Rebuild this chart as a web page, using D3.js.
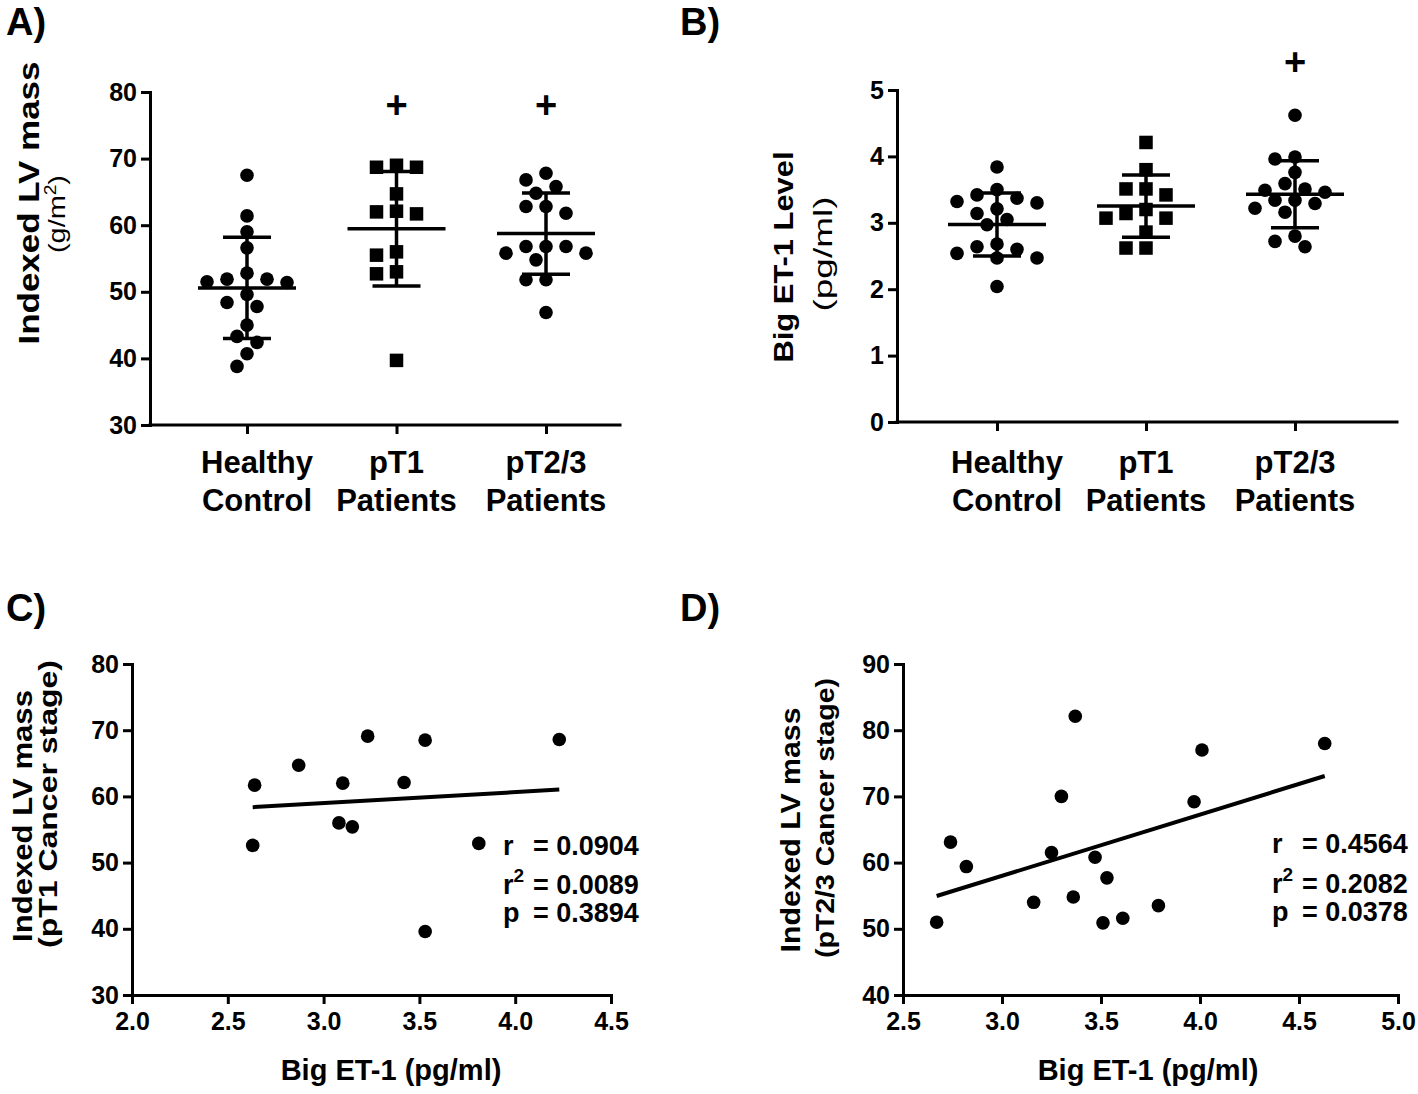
<!DOCTYPE html>
<html>
<head>
<meta charset="utf-8">
<script src="https://cdn.jsdelivr.net/npm/d3@7"></script>
<style>
  body { margin: 0; background: #fff; }
  svg { display: block; }
  text { font-family: "Liberation Sans", Arial, sans-serif; font-weight: bold; fill: #000; }
</style>
</head>
<body>
<svg id="chart" width="1418" height="1094"></svg>
<script>
// ---------------- data ----------------
const groups = ["Healthy Control", "pT1 Patients", "pT2/3 Patients"];
const groupLabelLines = [["Healthy", "Control"], ["pT1", "Patients"], ["pT2/3", "Patients"]];
const groupShapes = ["circle", "square", "circle"];

// Panel A: Indexed LV mass (g/m2)
const lvHealthy = [67.5, 61.4, 59.0, 56.6, 51.5, 51.9, 51.4, 51.9, 52.8, 49.6, 47.8, 48.4, 45.0, 43.3, 42.4, 40.7, 38.8];
const lvPT1 = [69.0, 68.7, 68.7, 64.7, 62.0, 61.7, 62.1, 56.0, 55.5, 53.0, 52.7, 39.7];
const lvPT23 = [67.8, 66.8, 64.8, 65.8, 62.8, 61.8, 62.8, 56.8, 56.8, 56.8, 55.8, 55.8, 54.8, 51.8, 51.8, 46.9];
const lvSignificant = [false, true, true];
const lvTicks = [30, 40, 50, 60, 70, 80];

// Panel B: Big ET-1 level (pg/ml)
const et1Healthy = [3.84, 3.42, 3.32, 3.30, 3.37, 3.50, 3.14, 3.21, 2.97, 3.05, 2.68, 2.60, 2.47, 2.47, 2.54, 2.64, 2.04];
const et1PT1 = [4.21, 3.80, 3.51, 3.51, 3.42, 3.20, 3.07, 3.07, 3.14, 2.86, 2.62, 2.62];
const et1PT23 = [4.62, 3.96, 3.99, 3.76, 3.51, 3.46, 3.49, 3.59, 3.34, 3.34, 3.22, 3.29, 3.16, 2.80, 2.64, 2.72];
const et1Significant = [false, false, true];
const et1Ticks = [0, 1, 2, 3, 4, 5];

// Panel C: pT1 patients, Big ET-1 vs Indexed LV mass
const cEt1 = [2.64, 2.63, 2.87, 3.10, 3.08, 3.15, 3.23, 3.42, 3.53, 3.53, 3.81, 4.23];
const cLv  = [61.7, 52.6, 64.7, 62.0, 56.0, 55.4, 69.1, 62.1, 68.5, 39.6, 52.9, 68.6];
const cXTicks = [2.0, 2.5, 3.0, 3.5, 4.0, 4.5];
const cYTicks = [30, 40, 50, 60, 70, 80];
const cStatLabels = ["r", "r2", "p"];
const cStatValues = ["0.0904", "0.0089", "0.3894"];

// Panel D: pT2/3 patients, Big ET-1 vs Indexed LV mass
const dEt1 = [2.67, 2.74, 2.82, 3.16, 3.25, 3.30, 3.36, 3.37, 3.47, 3.51, 3.53, 3.61, 3.79, 3.97, 4.01, 4.63];
const dLv  = [51.0, 63.1, 59.4, 54.0, 61.5, 70.0, 54.8, 82.1, 60.8, 50.9, 57.7, 51.6, 53.5, 69.2, 77.0, 78.0];
const dXTicks = [2.5, 3.0, 3.5, 4.0, 4.5, 5.0];
const dYTicks = [40, 50, 60, 70, 80, 90];
const dStatLabels = ["r", "r2", "p"];
const dStatValues = ["0.4564", "0.2082", "0.0378"];

// ---------------- drawing ----------------
const svg = d3.select("#chart");
const AXW = 3;
const DOT_R = 6.8;
const FONT = '"Liberation Sans", Arial, sans-serif';

function styleAxis(g) {
  g.selectAll(".domain").attr("stroke", "#000").attr("stroke-width", AXW).attr("stroke-linecap", "square");
  g.selectAll(".tick line").attr("stroke", "#000").attr("stroke-width", AXW);
  g.selectAll(".tick text").attr("fill", "#000").style("font-size", "25px").style("font-weight", "bold")
    .style("font-family", FONT);
}

function vTitle(x, yc, text, size, weight, len) {
  const t = svg.append("text")
    .attr("transform", `translate(${x},${yc}) rotate(-90)`)
    .attr("text-anchor", "middle")
    .style("font-size", size + "px")
    .style("font-weight", weight)
    .text(text);
  if (len) t.attr("textLength", len).attr("lengthAdjust", "spacingAndGlyphs");
  return t;
}

function panelLetter(x, y, t) {
  svg.append("text").attr("x", x).attr("y", y).style("font-size", "38px").text(t);
}

// beeswarm placement, in pixels
function swarm(values, y, step, minDist) {
  const pts = values.map((v, i) => ({ v, i, py: y(v) })).sort((a, b) => a.py - b.py);
  const placed = [];
  for (const p of pts) {
    let dx = 0;
    for (let k = 0; k < 50; k++) {
      const cands = k === 0 ? [0] : [-k * step, k * step];
      const ok = cands.find(c => placed.every(q => Math.hypot(q.dx - c, q.py - p.py) >= minDist));
      if (ok !== undefined) { dx = ok; break; }
    }
    p.dx = dx;
    placed.push(p);
  }
  return pts;
}

function dotPlot(cfg) {
  const { x0, x1, yTop, yBot, domain, ticks, catRange, data, sig, yFmt, labelY } = cfg;
  const y = d3.scaleLinear().domain(domain).range([yBot, yTop]);
  const x = d3.scalePoint().domain(groups).range(catRange);

  const ga = svg.append("g").attr("transform", `translate(${x0},0)`)
    .call(d3.axisLeft(y).tickValues(ticks).tickFormat(yFmt).tickSize(9).tickPadding(4).tickSizeOuter(0));
  styleAxis(ga);

  // x axis baseline + category ticks
  svg.append("line").attr("x1", x0).attr("x2", x1).attr("y1", yBot).attr("y2", yBot)
    .attr("stroke", "#000").attr("stroke-width", AXW).attr("stroke-linecap", "square");
  const gx = svg.append("g").attr("transform", `translate(0,${yBot})`)
    .call(d3.axisBottom(x).tickSize(9).tickFormat(""));
  gx.select(".domain").remove();
  styleAxis(gx);

  groups.forEach((gname, gi) => {
    const cx = x(gname);
    const lx = cx + (gi === 0 ? 10 : 0);   // first label sits slightly right of its tick
    const t = svg.append("text").attr("text-anchor", "middle").style("font-size", "31px");
    t.append("tspan").attr("x", lx).attr("y", labelY[0]).text(groupLabelLines[gi][0]);
    t.append("tspan").attr("x", lx).attr("y", labelY[1]).text(groupLabelLines[gi][1]);

    const vals = data[gi];
    const pts = swarm(vals, y, 10, 13.5);
    const g = svg.append("g");
    if (groupShapes[gi] === "circle") {
      g.selectAll("circle").data(pts).join("circle")
        .attr("cx", d => cx + d.dx).attr("cy", d => d.py).attr("r", DOT_R).attr("fill", "#000");
    } else {
      const s = 13.5;
      g.selectAll("rect").data(pts).join("rect")
        .attr("x", d => cx + d.dx - s / 2).attr("y", d => d.py - s / 2)
        .attr("width", s).attr("height", s).attr("fill", "#000");
    }
    // mean and SD
    const m = d3.mean(vals), sd = d3.deviation(vals);
    const lw = 3.5;
    g.append("line").attr("x1", cx - 49).attr("x2", cx + 49).attr("y1", y(m)).attr("y2", y(m))
      .attr("stroke", "#000").attr("stroke-width", lw);
    g.append("line").attr("x1", cx).attr("x2", cx).attr("y1", y(m - sd)).attr("y2", y(m + sd))
      .attr("stroke", "#000").attr("stroke-width", lw);
    [m - sd, m + sd].forEach(v => {
      g.append("line").attr("x1", cx - 24).attr("x2", cx + 24).attr("y1", y(v)).attr("y2", y(v))
        .attr("stroke", "#000").attr("stroke-width", lw);
    });
    if (sig[gi]) {
      svg.append("text").attr("x", cx).attr("y", cfg.plusY).attr("text-anchor", "middle")
        .style("font-size", "38px").text("+");
    }
  });
  return { x, y };
}

function scatter(cfg) {
  const { x0, x1, yTop, yBot, xDomain, yDomain, xTicks, yTicks, xs, ys, statLabels, statValues, statX, statY } = cfg;
  const x = d3.scaleLinear().domain(xDomain).range([x0, x1]);
  const y = d3.scaleLinear().domain(yDomain).range([yBot, yTop]);

  const gy = svg.append("g").attr("transform", `translate(${x0},0)`)
    .call(d3.axisLeft(y).tickValues(yTicks).tickFormat(d3.format("d")).tickSize(9).tickPadding(4).tickSizeOuter(0));
  styleAxis(gy);
  const gx = svg.append("g").attr("transform", `translate(0,${yBot})`)
    .call(d3.axisBottom(x).tickValues(xTicks).tickFormat(d3.format(".1f")).tickSize(9).tickPadding(8).tickSizeOuter(0));
  styleAxis(gx);

  // regression line (least squares)
  const mx = d3.mean(xs), my = d3.mean(ys);
  const sxy = d3.sum(xs, (v, i) => (v - mx) * (ys[i] - my));
  const sxx = d3.sum(xs, v => (v - mx) ** 2);
  const b = sxy / sxx, a = my - b * mx;
  const [lo, hi] = d3.extent(xs);
  svg.append("line").attr("x1", x(lo)).attr("x2", x(hi)).attr("y1", y(a + b * lo)).attr("y2", y(a + b * hi))
    .attr("stroke", "#000").attr("stroke-width", 4);

  svg.append("g").selectAll("circle").data(xs).join("circle")
    .attr("cx", d => x(d)).attr("cy", (d, i) => y(ys[i])).attr("r", DOT_R).attr("fill", "#000");

  statLabels.forEach((lab, i) => {
    const t = svg.append("text").attr("x", statX).attr("y", statY[i]).style("font-size", "27px");
    if (lab === "r2") {
      t.append("tspan").text("r");
      t.append("tspan").attr("dy", -12).style("font-size", "19px").text("2");
    } else {
      t.text(lab);
    }
    svg.append("text").attr("x", statX + 30).attr("y", statY[i]).style("font-size", "27px")
      .text("= " + statValues[i]);
  });
}

// Panel A
dotPlot({
  x0: 150, x1: 620, yTop: 92, yBot: 425, domain: [30, 80], ticks: lvTicks,
  catRange: [247, 546], data: [lvHealthy, lvPT1, lvPT23], sig: lvSignificant,
  yFmt: d3.format("d"), labelY: [473, 511], plusY: 118
});
// Panel B
dotPlot({
  x0: 897, x1: 1397, yTop: 90, yBot: 422, domain: [0, 5], ticks: et1Ticks,
  catRange: [997, 1295], data: [et1Healthy, et1PT1, et1PT23], sig: et1Significant,
  yFmt: d3.format("d"), labelY: [473, 511], plusY: 75
});
// Panel C
scatter({
  x0: 132, x1: 611, yTop: 664, yBot: 995, xDomain: [2.0, 4.5], yDomain: [30, 80],
  xTicks: cXTicks, yTicks: cYTicks, xs: cEt1, ys: cLv,
  statLabels: cStatLabels, statValues: cStatValues, statX: 503, statY: [855, 894, 922]
});
// Panel D
scatter({
  x0: 903, x1: 1398, yTop: 664, yBot: 995, xDomain: [2.5, 5.0], yDomain: [40, 90],
  xTicks: dXTicks, yTicks: dYTicks, xs: dEt1, ys: dLv,
  statLabels: dStatLabels, statValues: dStatValues, statX: 1272, statY: [853, 893, 921]
});

// axis titles
vTitle(39, 203, "Indexed LV mass", 30, "bold", 283);
const gm = svg.append("text").attr("transform", "translate(65,214) rotate(-90)").attr("text-anchor", "middle")
  .style("font-size", "24px").style("font-weight", "normal")
  .attr("textLength", 78).attr("lengthAdjust", "spacingAndGlyphs");
gm.append("tspan").text("(g/m");
gm.append("tspan").attr("dy", -9).style("font-size", "16px").text("2");
gm.append("tspan").attr("dy", 9).text(")");

vTitle(793, 257, "Big ET-1 Level", 28, "bold", 211);
vTitle(832, 254, "(pg/ml)", 26, "normal", 115);

vTitle(32, 816, "Indexed LV mass", 27, "bold", 252);
vTitle(57, 804, "(pT1 Cancer stage)", 26, "bold", 288);
vTitle(800, 830, "Indexed LV mass", 27, "bold", 245);
vTitle(834, 818, "(pT2/3 Cancer stage)", 26, "bold", 280);

svg.append("text").attr("x", 391).attr("y", 1080).attr("text-anchor", "middle").style("font-size", "29px").text("Big ET-1 (pg/ml)");
svg.append("text").attr("x", 1148).attr("y", 1080).attr("text-anchor", "middle").style("font-size", "29px").text("Big ET-1 (pg/ml)");

panelLetter(6, 35, "A)");
panelLetter(680, 35, "B)");
panelLetter(6, 621, "C)");
panelLetter(680, 621, "D)");
</script>
</body>
</html>
